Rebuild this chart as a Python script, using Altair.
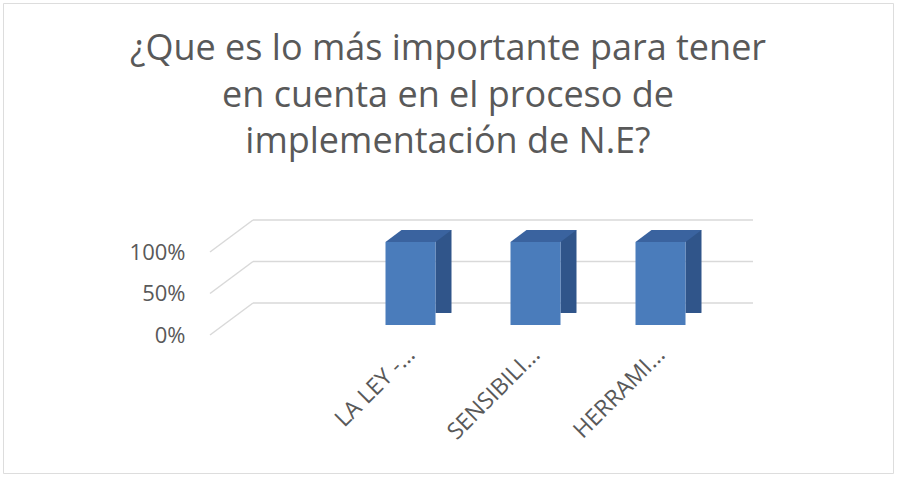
import altair as alt
import pandas as pd

# ---- data ----
categories = ["LA LEY -...", "SENSIBILI...", "HERRAMI..."]
values = [1.0, 1.0, 1.0]
axis_slots = [""] + categories          # first slot of the category axis is empty
tick_values = [0, 0.5, 1.0]
title_lines = ["¿Que es lo más importante para tener",
               "en cuenta en el proceso de",
               "implementación de N.E?"]

bars = pd.DataFrame({"cat": categories, "v": values, "zero": [0.0] * len(values)})
grid = pd.DataFrame({"v": tick_values})

# ---- style / layout ----
W, H = 890, 470
FRONT, SIDE, TOP = "#4a7cbb", "#30558a", "#3a639f"
GRID = "#d9d9d9"
TXT = "#595959"
FONT = "Open Sans"
X0, X1 = 207, 707          # front edge of the floor
DX, DY = 43, -32           # depth of the back wall
MX, MY = 13, -10           # bars sit half-way in depth
BAR_W, SIDE_W, SIDE_H = 50, 16, -12

x_scale = alt.Scale(domain=axis_slots, range=[X0, X1], paddingInner=0, paddingOuter=0)
y_scale = alt.Scale(domain=[0, 1], range=[332, 249], nice=False)

x_axis = alt.Axis(title=None, labelAngle=-45, domain=False, ticks=False, grid=False,
                  labelFont=FONT, labelFontSize=23, labelColor=TXT, offset=-132,
                  labelPadding=2, labelOffset=6)
y_axis = alt.Axis(title=None, values=tick_values, format=".0%", domain=False, ticks=False,
                  grid=False, labelFont=FONT, labelFontSize=22, labelColor=TXT,
                  labelPadding=0, offset=-182)


def X():
    return alt.X("cat:N", scale=x_scale, axis=x_axis)


def Y(field):
    return alt.Y(f"{field}:Q", scale=y_scale, axis=y_axis)


back_grid = alt.Chart(grid).mark_rule(color=GRID, strokeWidth=1.5, yOffset=DY).encode(
    x=alt.value(X0 + DX), x2=alt.value(X1 + DX), y=Y("v"))

side_grid = alt.Chart(grid).mark_rule(color=GRID, strokeWidth=1.5, y2Offset=DY).encode(
    x=alt.value(X0), x2=alt.value(X0 + DX), y=Y("v"), y2=alt.Y2("v"))

side_face = alt.Chart(bars).mark_bar(
    color=SIDE, width=SIDE_W, xOffset=MX + BAR_W / 2 + SIDE_W / 2,
    yOffset=MY + SIDE_H, y2Offset=MY).encode(x=X(), y=Y("v"))

front_face = alt.Chart(bars).mark_bar(
    color=FRONT, width=BAR_W, xOffset=MX, yOffset=MY, y2Offset=MY).encode(x=X(), y=Y("v"))

hb = BAR_W / 2
top_path = f"M{-hb},0L{hb},0L{hb + SIDE_W},{SIDE_H}L{-hb + SIDE_W},{SIDE_H}Z"
top_face = alt.Chart(bars).mark_point(
    shape=top_path, size=4, filled=True, fill=TOP, opacity=1, strokeWidth=0,
    xOffset=MX, yOffset=MY).encode(x=X(), y=Y("v"))

cut_path = f"M{hb},0.6L{hb + SIDE_W + 0.6},{SIDE_H - 0.4}L{hb + SIDE_W + 0.6},0.6Z"
bottom_cut = alt.Chart(bars).mark_point(
    shape=cut_path, size=4, filled=True, fill="white", opacity=1, strokeWidth=0,
    xOffset=MX, yOffset=MY).encode(x=X(), y=Y("zero"))

chart = alt.layer(back_grid, side_grid, side_face, front_face, top_face, bottom_cut).properties(
    width=W, height=H,
    padding={"left": 3, "top": 3, "right": 4, "bottom": 6},
    autosize="none",
    title=alt.TitleParams(text=title_lines, font=FONT, fontSize=36, fontWeight="normal",
                          color=TXT, anchor="middle", offset=-158, lineHeight=46.5),
).configure_view(stroke=GRID, strokeWidth=1.5).configure(background="white")

chart.save("out.html", embed_options={"renderer": "svg", "actions": False})
